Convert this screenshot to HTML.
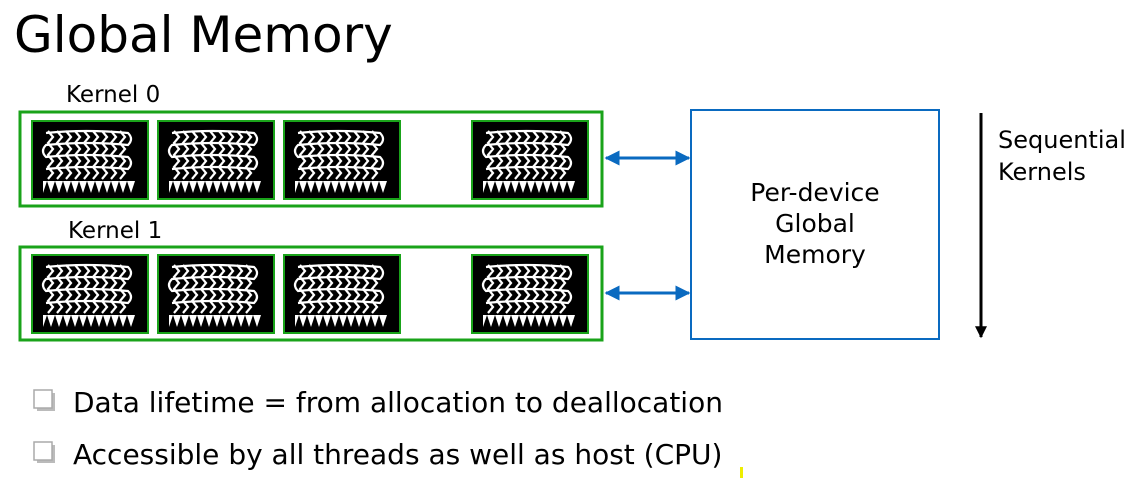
<!DOCTYPE html>
<html><head><meta charset="utf-8"><style>
body{margin:0;width:1134px;height:479px;background:#fff;overflow:hidden;font-family:"DejaVu Sans","Liberation Sans",sans-serif}
</style></head><body>
<svg width="1134" height="479" xmlns="http://www.w3.org/2000/svg">
<defs>
<g id="warp">
<rect x="0" y="0" width="116" height="78" fill="#000" stroke="#1aa31a" stroke-width="2"/>
<g fill="none" stroke="#fff" stroke-width="2.2">
<path d="M16 10 l5 6 l-5 6 l5 6 l-5 6 l5 6 l-5 6 l5 6 l-5 6 M25 10 l5 6 l-5 6 l5 6 l-5 6 l5 6 l-5 6 l5 6 l-5 6 M34 10 l5 6 l-5 6 l5 6 l-5 6 l5 6 l-5 6 l5 6 l-5 6 M43 10 l5 6 l-5 6 l5 6 l-5 6 l5 6 l-5 6 l5 6 l-5 6 M52 10 l5 6 l-5 6 l5 6 l-5 6 l5 6 l-5 6 l5 6 l-5 6 M61 10 l5 6 l-5 6 l5 6 l-5 6 l5 6 l-5 6 l5 6 l-5 6 M70 10 l5 6 l-5 6 l5 6 l-5 6 l5 6 l-5 6 l5 6 l-5 6 M79 10 l5 6 l-5 6 l5 6 l-5 6 l5 6 l-5 6 l5 6 l-5 6 M88 10 l5 6 l-5 6 l5 6 l-5 6 l5 6 l-5 6 l5 6 l-5 6"/>
<path d="M14 12 q40 -4 82 0 q6 6 0 12 q-40 -4 -82 0 q-6 6 0 12 q40 -4 82 0 q6 6 0 12 q-40 -4 -82 0"/>
</g>
<path d="M11 60 h92 l-4 12 l-4 -12 l-4 12 l-4 -12 l-4 12 l-4 -12 l-4 12 l-4 -12 l-4 12 l-4 -12 l-4 12 l-4 -12 l-4 12 l-4 -12 l-4 12 l-4 -12 l-4 12 l-4 -12 l-4 12 l-4 -12 l-4 12 l-4 -12 l-4 12 z" fill="#fff"/>
</g>
<marker id="ab" viewBox="0 0 10 10" refX="9" refY="5" markerWidth="5" markerHeight="5" orient="auto-start-reverse"><path d="M0 0 L10 5 L0 10 z" fill="#0a6ac0"/></marker>
<marker id="ak" viewBox="0 0 10 10" refX="9" refY="5" markerWidth="5" markerHeight="4" orient="auto"><path d="M0 0 L10 5 L0 10 z" fill="#000"/></marker>
</defs>
<text x="14" y="52" font-size="50" fill="#000">Global Memory</text>
<text x="66" y="102" font-size="23">Kernel 0</text>
<text x="68" y="238" font-size="23">Kernel 1</text>
<rect x="20" y="112" width="582" height="94" fill="none" stroke="#1aa31a" stroke-width="3"/>
<rect x="20" y="247" width="582" height="93" fill="none" stroke="#1aa31a" stroke-width="3"/>
<use href="#warp" x="32" y="121"/><use href="#warp" x="158" y="121"/><use href="#warp" x="284" y="121"/><use href="#warp" x="472" y="121"/>
<use href="#warp" x="32" y="255"/><use href="#warp" x="158" y="255"/><use href="#warp" x="284" y="255"/><use href="#warp" x="472" y="255"/>
<line x1="606" y1="158" x2="689" y2="158" stroke="#0a6ac0" stroke-width="3" marker-start="url(#ab)" marker-end="url(#ab)"/>
<line x1="606" y1="293" x2="689" y2="293" stroke="#0a6ac0" stroke-width="3" marker-start="url(#ab)" marker-end="url(#ab)"/>
<rect x="691" y="110" width="248" height="229" fill="none" stroke="#0a6ac0" stroke-width="2"/>
<text font-size="25" text-anchor="middle"><tspan x="815" y="201">Per-device</tspan><tspan x="815" y="232">Global</tspan><tspan x="815" y="263">Memory</tspan></text>
<line x1="981" y1="113" x2="981" y2="337" stroke="#000" stroke-width="3" marker-end="url(#ak)"/>
<text font-size="24"><tspan x="998" y="148">Sequential</tspan><tspan x="998" y="180">Kernels</tspan></text>
<rect x="37" y="393" width="18" height="18" fill="#bbb"/>
<rect x="34" y="390" width="18" height="18" fill="#fff" stroke="#aaa" stroke-width="1.5"/>
<rect x="37" y="445" width="18" height="18" fill="#bbb"/>
<rect x="34" y="442" width="18" height="18" fill="#fff" stroke="#aaa" stroke-width="1.5"/>
<text x="73" y="412" font-size="28">Data lifetime = from allocation to deallocation</text>
<text x="73" y="464" font-size="28">Accessible by all threads as well as host (CPU)</text>
<rect x="740" y="467" width="3" height="11" fill="#ee0"/>
</svg>
</body></html>
